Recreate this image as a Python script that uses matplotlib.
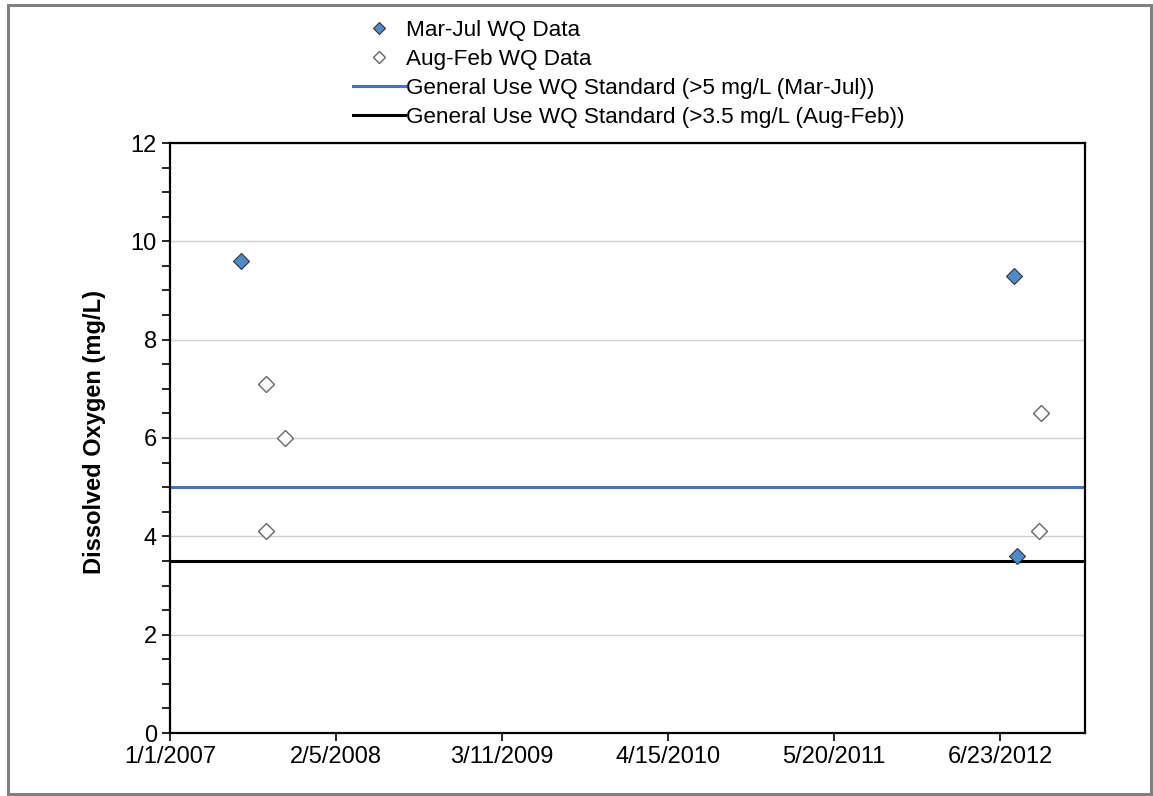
import matplotlib
matplotlib.use("Agg")
import matplotlib.pyplot as plt
from matplotlib.patches import Rectangle
from datetime import datetime, timedelta

plt.rcParams["font.family"] = ["Liberation Sans", "DejaVu Sans"]

# sample dates and dissolved oxygen readings (mg/L)
spring_dates = ["2007-06-20", "2012-07-28", "2012-08-03"]
spring_do = [9.6, 9.3, 3.6]
fall_dates = ["2007-08-20", "2007-08-21", "2007-10-05", "2012-09-26", "2012-10-01"]
fall_do = [7.1, 4.1, 6.0, 4.1, 6.5]

std_spring = 5.0
std_fall = 3.5

start = datetime(2007, 1, 1)
end = datetime(2013, 1, 14)
tick_step_days = 400

spring_x = [datetime.strptime(d, "%Y-%m-%d") for d in spring_dates]
fall_x = [datetime.strptime(d, "%Y-%m-%d") for d in fall_dates]

fig = plt.figure(figsize=(11.53, 7.96), dpi=100)
ax = fig.add_axes([170 / 1153, 1 - 733 / 796, 915 / 1153, 590 / 796])

ax.axhline(std_spring, color="#4472C4", lw=2.2, zorder=2,
           label="General Use WQ Standard (>5 mg/L (Mar-Jul))")
ax.axhline(std_fall, color="black", lw=2.2, zorder=2,
           label="General Use WQ Standard (>3.5 mg/L (Aug-Feb))")
ax.plot(spring_x, spring_do, ls="none", marker="D", ms=8.5, mfc="#4F8BCB",
        mec="#333333", mew=0.8, zorder=3, label="Mar-Jul WQ Data")
ax.plot(fall_x, fall_do, ls="none", marker="D", ms=8.5, mfc="white",
        mec="#666666", mew=1.0, zorder=3, label="Aug-Feb WQ Data")

ax.set_xlim(start, end)
ax.set_ylim(0, 12)
ticks = []
t = start
while t <= end:
    ticks.append(t)
    t += timedelta(days=tick_step_days)
ax.set_xticks(ticks)
ax.set_xticklabels([f"{d.month}/{d.day}/{d.year}" for d in ticks])
ax.set_yticks(range(0, 13, 2))
ax.set_yticks([v / 2 for v in range(0, 25)], minor=True)
ax.grid(axis="y", which="major", color="#D0D0D0", lw=1.0, zorder=0)
ax.set_axisbelow(True)

ax.tick_params(axis="both", which="major", direction="out", length=6,
               width=1.2, labelsize=17, color="black")
ax.tick_params(axis="y", which="minor", direction="out", length=6, width=1.2)
ax.tick_params(axis="x", which="minor", length=0)
for s in ax.spines.values():
    s.set_linewidth(1.6)
    s.set_color("black")

ax.set_ylabel("Dissolved Oxygen (mg/L)", fontsize=17, fontweight="bold")
ax.yaxis.set_label_coords(-0.070, 0.51)

handles, labels = ax.get_legend_handles_labels()
order = [2, 3, 0, 1]
fig.legend([handles[i] for i in order], [labels[i] for i in order],
           loc="upper left", bbox_to_anchor=(353 / 1153, 1 - 20 / 796),
           frameon=False, fontsize=16.2, handlelength=2.3, handletextpad=0.05,
           labelspacing=0.36, borderpad=0, borderaxespad=0, markerscale=0.7)

# gray outer border
fig.patches.append(Rectangle((7.5 / 1153, 2 / 796), 1143 / 1153, 789 / 796,
                             transform=fig.transFigure, fill=False,
                             edgecolor="#808080", lw=2.2))

fig.savefig("out.png", dpi=100)
